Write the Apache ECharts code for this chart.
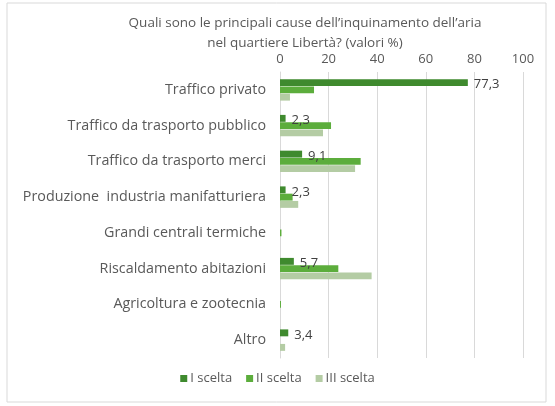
<!DOCTYPE html>
<html><head><meta charset="utf-8">
<script src="https://cdn.jsdelivr.net/npm/echarts@6/dist/echarts.min.js"></script>
<style>html,body{margin:0;padding:0;background:#fff}#c{width:555px;height:406px}</style>
</head><body><div id="c"></div>
<script>
const categories = ["Traffico privato","Traffico da trasporto pubblico","Traffico da trasporto merci","Produzione  industria manifatturiera","Grandi centrali termiche","Riscaldamento abitazioni","Agricoltura e zootecnia","Altro"];
const seriesNames = ["I scelta","II scelta","III scelta"];
const scelta1 = [77.3, 2.3, 9.1, 2.3, 0, 5.7, 0, 3.4];
const scelta2 = [14.0, 21.0, 33.2, 5.2, 0.6, 24.0, 0.4, 0];
const scelta3 = [4.1, 17.7, 30.9, 7.5, 0, 37.7, 0, 2.1];
const xTicks = [0, 20, 40, 60, 80, 100];

const chart = echarts.init(document.getElementById('c'), null, {renderer:'canvas'});
const font = 'Open Sans';
chart.setOption({
  backgroundColor: '#fff',
  animation: false,
  graphic: [{type:'rect', shape:{x:7,y:3,width:539,height:399}, style:{fill:'none', stroke:'#d9d9d9', lineWidth:1}}],
  title: {
    text: 'Quali sono le principali cause dell\u2019inquinamento dell\u2019aria\nnel quartiere Libert\u00e0? (valori %)',
    left: 300, top: 8, textAlign: 'center',
    textStyle: {fontFamily: font, fontSize: 13.5, fontWeight: 'normal', color: '#595959', lineHeight: 20}
  },
  legend: {
    data: seriesNames, bottom: 16, left: 'center', itemWidth: 7, itemHeight: 7, itemGap: 14,
    icon: 'rect',
    textStyle: {fontFamily: font, fontSize: 13, color: '#595959', padding: [0,0,0,-2]}
  },
  grid: {left: 280, right: 32, top: 72, bottom: 48},
  xAxis: {
    type: 'value', position: 'top', min: xTicks[0], max: xTicks[xTicks.length-1], interval: 20,
    axisLine: {show: false}, axisTick: {show: false},
    splitLine: {lineStyle: {color: '#d9d9d9'}},
    axisLabel: {fontFamily: font, fontSize: 13, color: '#595959', margin: 6}
  },
  yAxis: {
    type: 'category', data: categories, inverse: true,
    axisLine: {lineStyle: {color: '#d9d9d9'}}, axisTick: {show: false},
    axisLabel: {fontFamily: font, fontSize: 14.3, color: '#595959', margin: 14}
  },
  series: [
    {name: seriesNames[0], type: 'bar', data: scelta1, barGap: '5%', barCategoryGap: '40%',
     itemStyle: {color: '#3f8a2e'},
     label: {show: true, position: 'right', distance: 6, offset: [0, 2], fontFamily: font, fontSize: 13, color: '#404040',
       formatter: p => p.value > 0 ? String(p.value).replace('.', ',') : ''}},
    {name: seriesNames[1], type: 'bar', data: scelta2, itemStyle: {color: '#5cad3c'}},
    {name: seriesNames[2], type: 'bar', data: scelta3, itemStyle: {color: '#b4cca4'}}
  ]
});
</script></body></html>
